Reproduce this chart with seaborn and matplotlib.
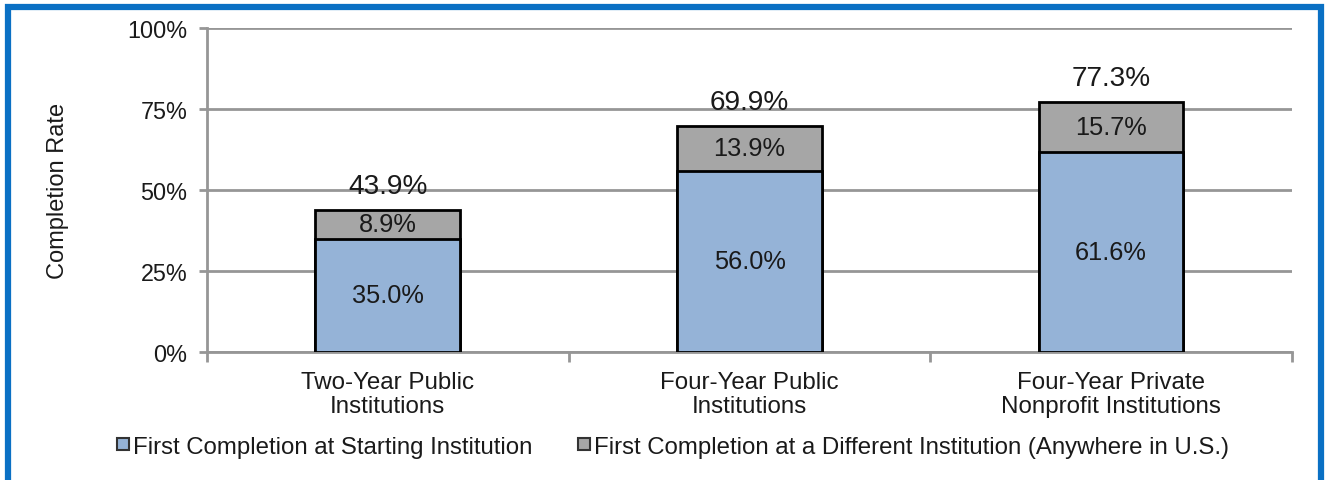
import seaborn as sns
import matplotlib.pyplot as plt
import matplotlib.ticker as mticker
from matplotlib.patches import Rectangle, Patch
import pandas as pd

categories = ["Two-Year Public\nInstitutions", "Four-Year Public\nInstitutions",
              "Four-Year Private\nNonprofit Institutions"]
starting = [35.0, 56.0, 61.6]
different = [8.9, 13.9, 15.7]
totals = [43.9, 69.9, 77.3]
series_names = ["First Completion at Starting Institution",
                "First Completion at a Different Institution (Anywhere in U.S.)"]

BLUE = "#95B3D7"
GRAY = "#A6A6A6"
TXT = "#1a1a1a"

sns.set_style("white")
plt.rcParams['font.family'] = ['Liberation Sans', 'DejaVu Sans']

df = pd.DataFrame({"cat": categories, "start": starting, "diff": different, "total": totals})

fig = plt.figure(figsize=(13.28, 4.81), dpi=100)
ax = fig.add_axes([207 / 1328, 1 - 353 / 481, (1292 - 207) / 1328, (353 - 29) / 481])

# gray = full stack height, blue drawn on top of it
sns.barplot(data=df, x="cat", y="total", color=GRAY, width=0.4, edgecolor="black",
            linewidth=2, saturation=1, ax=ax, zorder=3)
sns.barplot(data=df, x="cat", y="start", color=BLUE, width=0.4, edgecolor="black",
            linewidth=2, saturation=1, ax=ax, zorder=4)

ax.set_ylim(0, 100)
ax.set_xlim(-0.5, 2.5)
ax.yaxis.set_major_locator(mticker.MultipleLocator(25))
ax.yaxis.set_major_formatter(mticker.PercentFormatter(decimals=0))
ax.grid(axis="y", color="#969696", linewidth=2, zorder=0)
ax.set_axisbelow(True)
for s in ["top", "right"]:
    ax.spines[s].set_visible(False)
for s in ["left", "bottom"]:
    ax.spines[s].set_color("#969696")
    ax.spines[s].set_linewidth(2)

ax.set_xlabel("")
ax.set_ylabel("Completion Rate", fontsize=17, labelpad=42, color=TXT)
ax.tick_params(axis="y", labelsize=16.8, length=6, width=2, color="#969696", left=True,
               pad=8, labelcolor=TXT)
ax.tick_params(axis="x", labelsize=17.4, length=0, pad=14, labelcolor=TXT)
ax.set_xticklabels(categories, linespacing=1.1)
# minor ticks at category boundaries
ax.xaxis.set_minor_locator(mticker.FixedLocator([-0.5, 0.5, 1.5, 2.5]))
ax.tick_params(axis="x", which="minor", length=7, width=2, color="#969696", bottom=True)

for i in range(len(categories)):
    ax.text(i, starting[i] / 2, f"{starting[i]:.1f}%", ha="center", va="center",
            fontsize=18.3, color=TXT, zorder=5)
    ax.text(i, starting[i] + different[i] / 2, f"{different[i]:.1f}%", ha="center",
            va="center", fontsize=18.3, color=TXT, zorder=5)
    ax.text(i, totals[i] + 3.2, f"{totals[i]:.1f}%", ha="center", va="bottom",
            fontsize=20.2, color=TXT, zorder=5)

handles = [Patch(facecolor=BLUE, edgecolor="#333333", linewidth=1.5),
           Patch(facecolor=GRAY, edgecolor="#333333", linewidth=1.5)]
leg = fig.legend(handles, series_names, loc="center",
                 bbox_to_anchor=(673 / 1328, 1 - 448 / 481),
                 ncol=2, frameon=False, fontsize=17.3, handlelength=0.5, handleheight=0.4,
                 handletextpad=0.18, columnspacing=1.9)
for t in leg.get_texts():
    t.set_color(TXT)

fig.patches.append(Rectangle((7.5 / 1328, -0.05), 1 - 15 / 1328, 1.05 - 7.5 / 481,
                             transform=fig.transFigure, fill=False, edgecolor="#0A70C4",
                             linewidth=4.5))

fig.savefig("out.png", dpi=100)
